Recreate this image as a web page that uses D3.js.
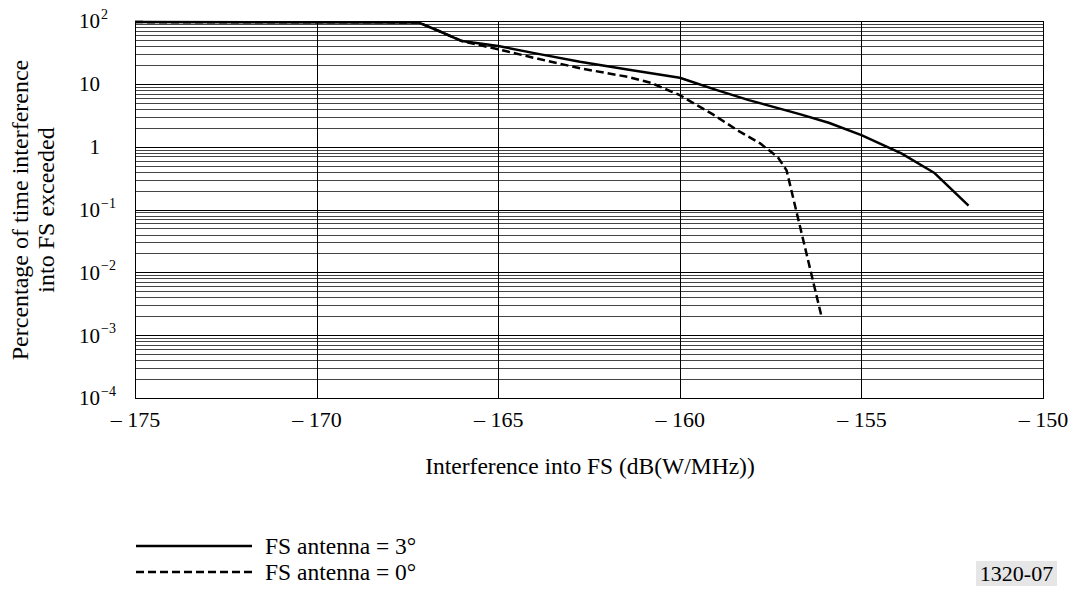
<!DOCTYPE html>
<html>
<head>
<meta charset="utf-8">
<script src="https://cdn.jsdelivr.net/npm/d3@7"></script>
<style>
  body { margin: 0; background: #fff; }
  svg { display: block; font-family: "Liberation Serif", "Times New Roman", serif; }
</style>
</head>
<body>
<svg id="chart" width="1069" height="597"></svg>
<script>
// values (dB(W/MHz) vs % of time)
const xTicks = [-175, -170, -165, -160, -155, -150];
const yDecades = [2, 1, 0, -1, -2, -3, -4];

const solidX = [-175, -167.2, -166.65, -166.0, -165.0, -163.9, -162.75, -161.4, -160.0, -159.0, -158.1, -156.7, -155.9, -155.0, -153.9, -153.0, -152.05];
const solidY = [96, 95, 70, 48, 40, 30, 22.5, 16.8, 12.5, 8.0, 5.5, 3.3, 2.4, 1.53, 0.78, 0.385, 0.115];

const dashedX = [-175, -167.2, -166.65, -166.0, -165.0, -163.9, -162.75, -161.4, -160.8, -160.0, -159.1, -158.35, -157.8, -157.3, -157.06, -156.1];
const dashedY = [96, 95, 70, 48, 35.4, 25, 17.7, 12.8, 10.4, 6.6, 3.3, 1.73, 1.14, 0.68, 0.42, 0.002];

const legendLabels = ["FS antenna = 3°", "FS antenna = 0°"];

const svg = d3.select("#chart");
const margin = { top: 21, right: 26, bottom: 199, left: 135 };
const width = 1069 - margin.left - margin.right;
const height = 597 - margin.top - margin.bottom;

const x = d3.scaleLinear().domain([-175, -150]).range([0, width]);
const y = d3.scaleLog().domain([1e-4, 1e2]).range([height, 0]);

const g = svg.append("g").attr("transform", `translate(${margin.left},${margin.top})`);

// horizontal grid: minors then decades
const minors = [];
for (let k = -4; k < 2; k++) {
  for (let m = 2; m <= 9; m++) minors.push(m * Math.pow(10, k));
}
g.selectAll("line.minor")
  .data(minors)
  .join("line")
  .attr("class", "minor")
  .attr("x1", 0).attr("x2", width)
  .attr("y1", d => Math.round(y(d)) + 0.5)
  .attr("y2", d => Math.round(y(d)) + 0.5)
  .attr("stroke", "#444")
  .attr("stroke-width", 1);

g.selectAll("line.decade")
  .data(yDecades)
  .join("line")
  .attr("class", "decade")
  .attr("x1", 0).attr("x2", width)
  .attr("y1", d => Math.round(y(Math.pow(10, d))) + 0.5)
  .attr("y2", d => Math.round(y(Math.pow(10, d))) + 0.5)
  .attr("stroke", "#000");

g.selectAll("line.vgrid")
  .data(xTicks)
  .join("line")
  .attr("class", "vgrid")
  .attr("x1", d => Math.round(x(d)) + 0.5)
  .attr("x2", d => Math.round(x(d)) + 0.5)
  .attr("y1", 0).attr("y2", height)
  .attr("stroke", "#000");

g.append("rect")
  .attr("x", 0.5).attr("y", 0.5)
  .attr("width", width).attr("height", height)
  .attr("fill", "none").attr("stroke", "#000");

// x axis labels
const xAxis = d3.axisBottom(x)
  .tickValues(xTicks)
  .tickSize(0)
  .tickPadding(13)
  .tickFormat(d => "\u2013 " + Math.abs(d));

g.append("g")
  .attr("transform", `translate(0,${height})`)
  .call(xAxis)
  .call(a => a.select(".domain").remove())
  .selectAll("text")
  .attr("font-family", "Liberation Serif")
  .attr("font-size", 22)
  .attr("fill", "#000");

// y labels with superscripts
const yLab = g.append("g");
yDecades.forEach(k => {
  const yy = y(Math.pow(10, k));
  const base = k === 0 ? "1" : "10";
  yLab.append("text")
    .attr("x", -35).attr("y", yy)
    .attr("dy", "0.35em")
    .attr("text-anchor", "end")
    .attr("font-size", 21)
    .text(base);
  if (k !== 0 && k !== 1) {
    yLab.append("text")
      .attr("x", -34).attr("y", yy - 2)
      .attr("font-size", 14)
      .text(k < 0 ? "\u2212" + Math.abs(k) : String(k));
  }
});

// curves
const line = d3.line()
  .x(d => x(d[0]))
  .y(d => y(d[1]));

g.append("path")
  .datum(dashedX.map((v, i) => [v, dashedY[i]]))
  .attr("d", line)
  .attr("fill", "none")
  .attr("stroke", "#000")
  .attr("stroke-width", 2.5)
  .attr("stroke-linejoin", "round")
  .attr("stroke-dasharray", "8,4");

g.append("path")
  .datum(solidX.map((v, i) => [v, solidY[i]]))
  .attr("d", line)
  .attr("fill", "none")
  .attr("stroke", "#000")
  .attr("stroke-linejoin", "round")
  .attr("stroke-width", 2.5);

// axis titles
svg.append("text")
  .attr("x", margin.left + width / 2 + 1)
  .attr("y", 474)
  .attr("text-anchor", "middle")
  .attr("font-size", 23.5)
  .text("Interference into FS (dB(W/MHz))");

const yt = svg.append("text")
  .attr("transform", "translate(0,210) rotate(-90)")
  .attr("text-anchor", "middle")
  .attr("font-size", 24);
yt.append("tspan").attr("x", 0).attr("y", 28).text("Percentage of time interference");
yt.append("tspan").attr("x", 0).attr("y", 54).text("into FS exceeded");

// legend
const legend = svg.append("g");
legendLabels.forEach((label, i) => {
  const ly = 546 + i * 26;
  legend.append("line")
    .attr("x1", 136).attr("x2", 252)
    .attr("y1", ly).attr("y2", ly)
    .attr("stroke", "#000")
    .attr("stroke-width", 2.5)
    .attr("stroke-dasharray", i === 1 ? "8,4" : null);
  legend.append("text")
    .attr("x", 265).attr("y", ly)
    .attr("dy", "0.35em")
    .attr("font-size", 23.5)
    .text(label);
});

// figure id
svg.append("rect")
  .attr("x", 976).attr("y", 561)
  .attr("width", 81).attr("height", 25)
  .attr("fill", "#e6e6e6");
svg.append("text")
  .attr("x", 1016.5).attr("y", 573.5)
  .attr("dy", "0.35em")
  .attr("text-anchor", "middle")
  .attr("font-size", 22)
  .text("1320-07");
</script>
</body>
</html>
